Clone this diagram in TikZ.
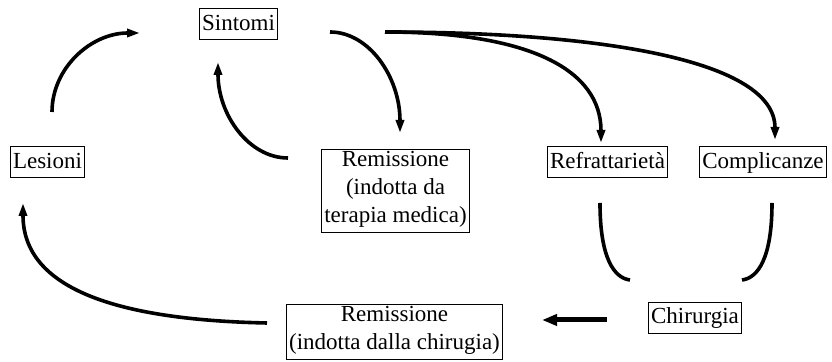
\documentclass[tikz,border=0pt]{standalone}
\usepackage{fontspec}
\usepackage{tikz}
\usetikzlibrary{arrows.meta}
\newfontfamily\diagfont{Liberation Serif}

\tikzset{box/.style={draw, line width=.5pt, inner xsep=1.5pt, inner ysep=.75pt, align=center,
  execute at begin node=\strut, execute at end node=\strut}}

\begin{document}
\begin{tikzpicture}[y=-.5pt, x=.5pt, font={\diagfont\fontsize{11.5}{14}\selectfont},
  line width=1.8pt, -{Triangle[length=6.5pt,width=4pt]}]
\useasboundingbox (0,0) rectangle (832,362);

\node[box] (S) at (238.5,24.5) {Sintomi};
\node[box] (L) at (47.5,162.5) {Lesioni};
\node[box] (RM) at (395.5,191) {Remissione\\(indotta da\\terapia medica)};
\node[box] (RF) at (607.5,162.5) {Refrattariet\`a};
\node[box] (CO) at (763,162.5) {Complicanze};
\node[box] (CH) at (695,318) {Chirurgia};
\node[box] (RC) at (394.5,332) {Remissione\\(indotta dalla chirugia)};

% ends of the arrows
\coordinate (L1) at (52,112);
\coordinate (S1) at (140,33);
\coordinate (RM1) at (288,158);
\coordinate (S2) at (218,62);
\coordinate (S3) at (330,32);
\coordinate (RM2) at (400,133);
\coordinate (S4) at (385,32);
\coordinate (RF1) at (601,143);
\coordinate (CO1) at (775,140);
\coordinate (RF2) at (600,203);
\coordinate (CO2) at (772,203);
\coordinate (CH1) at (630,280);
\coordinate (CH2) at (742,280);
\coordinate (CH3) at (607,320);
\coordinate (RC1) at (542,320);
\coordinate (RC2) at (267,323);
\coordinate (L2) at (23,203);

\draw (L1) .. controls (52,68) and (91,33) .. (S1);
\draw (RM1) .. controls (249,158) and (218,115) .. (S2);
\draw (S3) .. controls (369,32) and (400,77) .. (RM2);
\draw (S4) .. controls (530,32) and (601,70) .. (RF1);
\draw (S4) .. controls (600,32) and (775,60) .. (CO1);
\draw[-] (RF2) .. controls (600,258) and (614,278) .. (CH1);
\draw[-] (CO2) .. controls (772,258) and (758,278) .. (CH2);
\draw[line width=2.5pt, -{Triangle[length=7.5pt,width=5.5pt]}] (CH3) -- (RC1);
\draw (RC2) .. controls (120,320) and (23,290) .. (L2);

\end{tikzpicture}
\end{document}
